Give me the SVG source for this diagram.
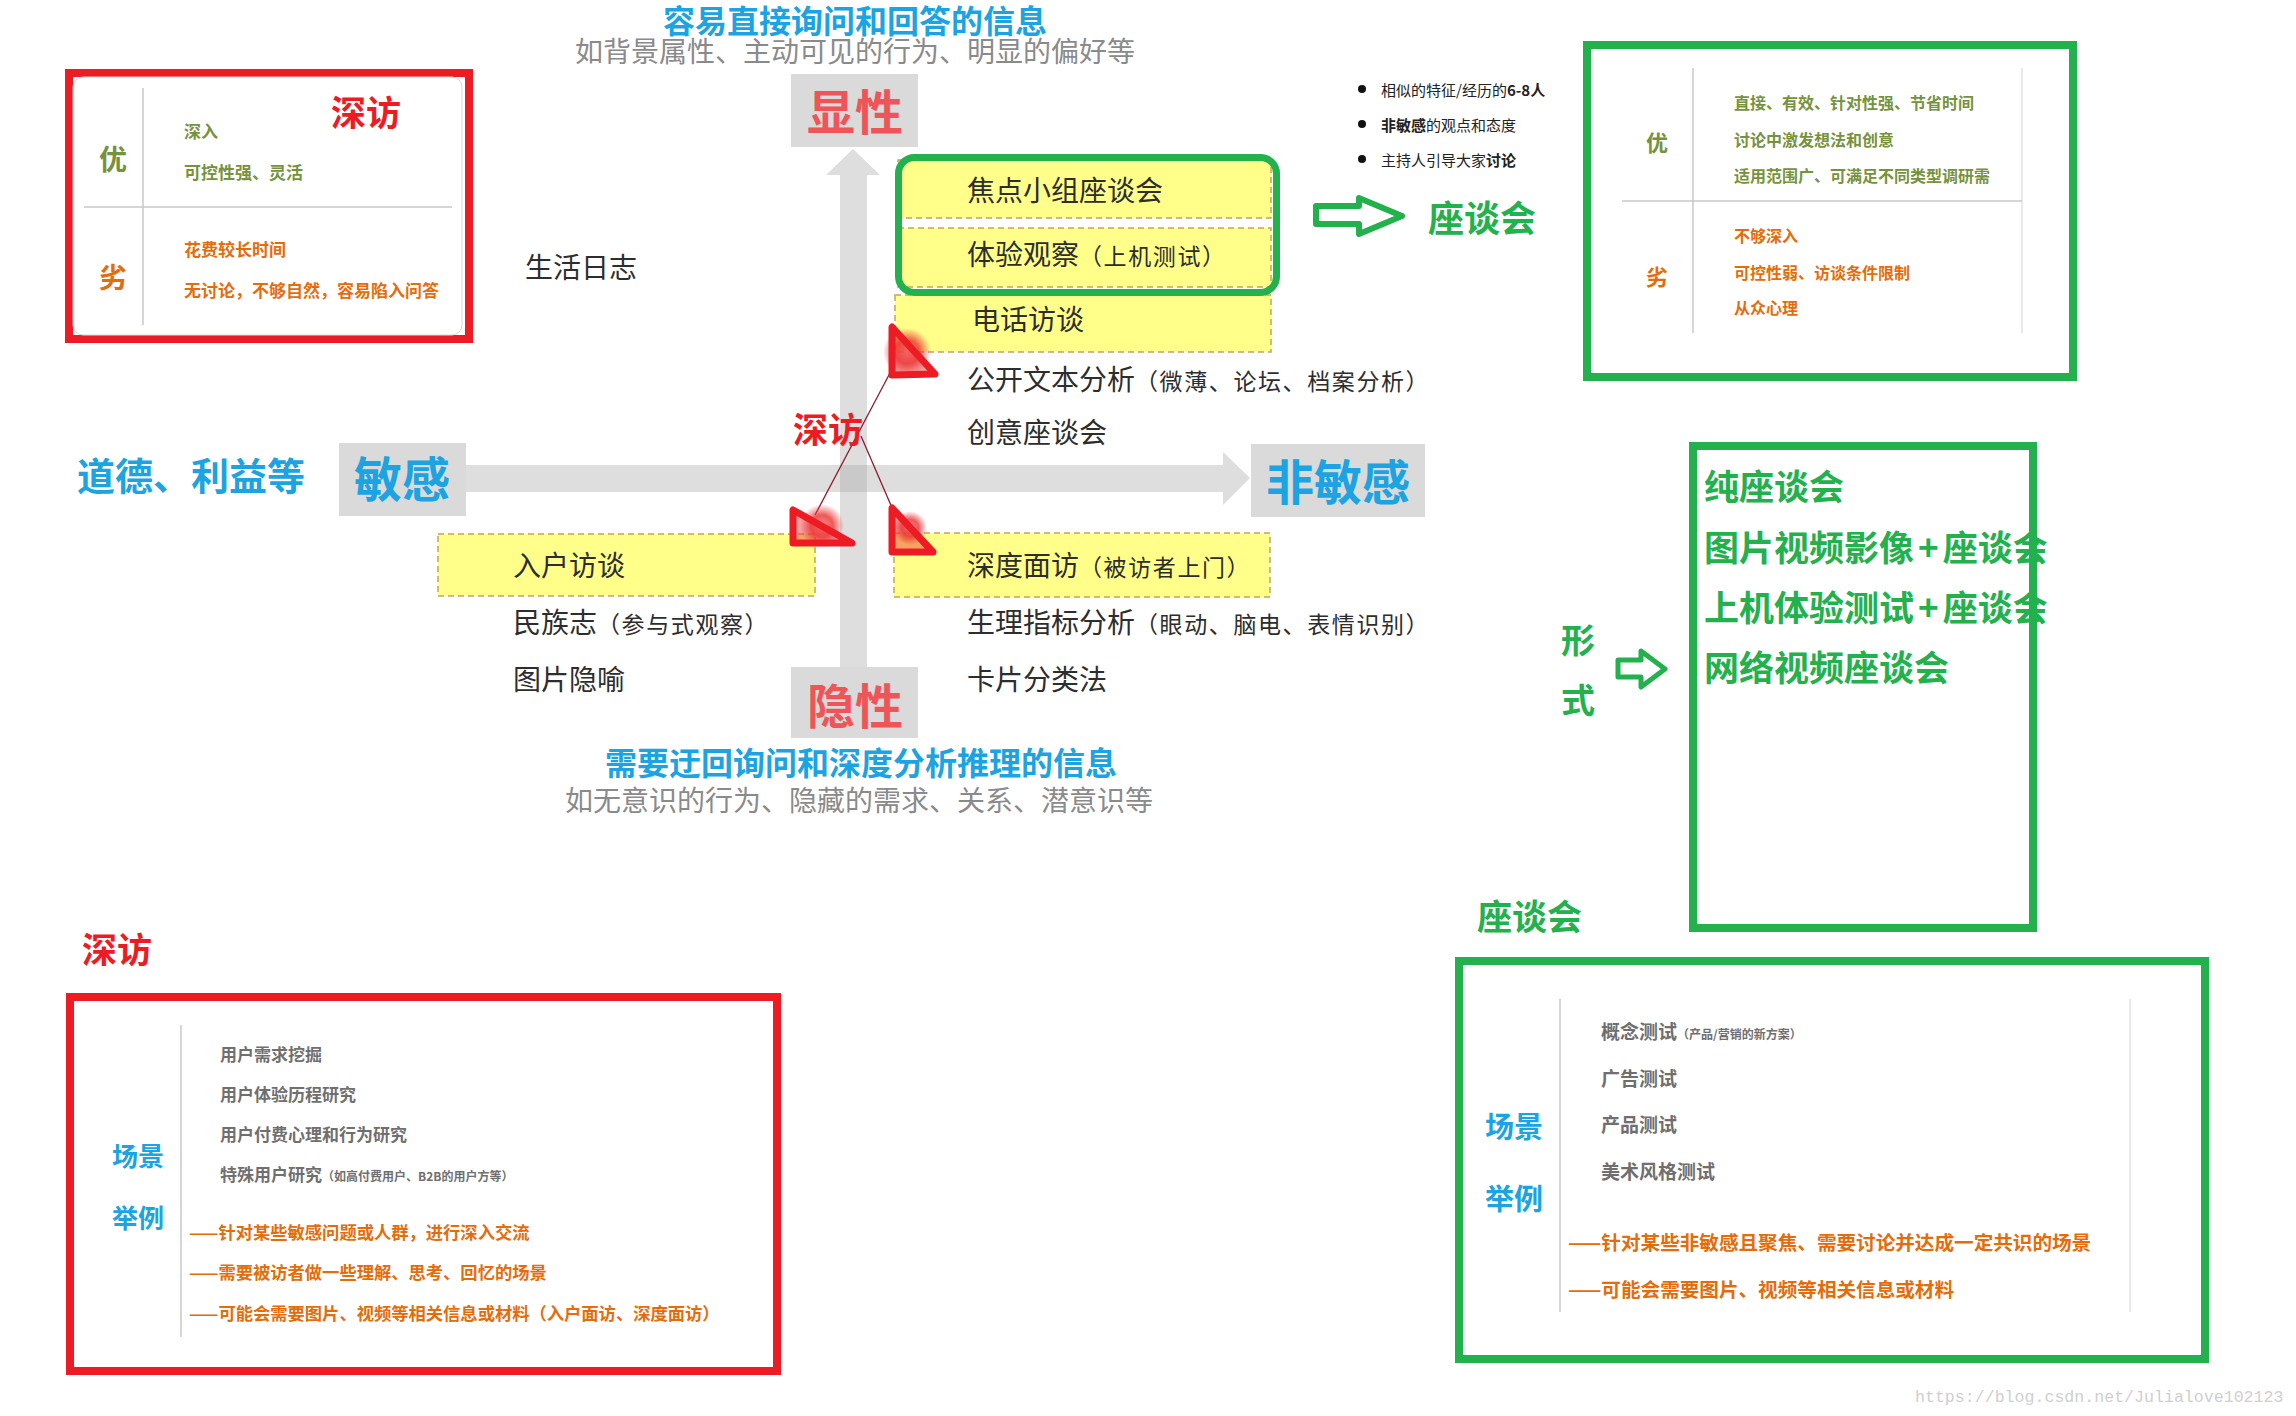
<svg xmlns="http://www.w3.org/2000/svg" width="2296" height="1416" viewBox="0 0 2296 1416">
<defs>
<style>
text{font-family:"Noto Sans CJK SC","Noto Sans",sans-serif;}
.dark{fill:#2d2d2d;font-size:28px;}
.sm{font-size:23px;letter-spacing:1.6px;}
.blue{fill:#1ba3e2;font-weight:700;}
.gray{fill:#8a8a8a;font-size:28px;}
.pink{fill:#ef5558;font-weight:700;font-size:48px;}
.red{fill:#ed1c24;font-weight:700;font-size:35px;}
.green{fill:#22b14c;font-weight:700;}
.olive{fill:#76923c;font-weight:700;}
.orange{fill:#e46c0a;font-weight:700;}
.item{fill:#6f6f6f;font-weight:700;}
.ybox{fill:#ffff8a;stroke:#c8a35a;stroke-width:1.5;stroke-dasharray:6 4;}
.gbox{fill:#dadada;}
.redframe{fill:#fff;stroke:#ed1c24;stroke-width:8;}
.greenframe{fill:#fff;stroke:#22b14c;stroke-width:8;}
.rule{stroke:#c8c8c8;stroke-width:1.5;}
.faint{stroke:#e2e2e2;stroke-width:1.5;}
.axis{fill:#dedede;}
.tri{fill:#ee3030;fill-opacity:0.45;stroke:#ed1c24;stroke-width:7;stroke-linejoin:round;}
.thin{stroke:#8e1b2b;stroke-width:1.3;fill:none;}
.harrow{fill:#fff;stroke:#22b14c;stroke-linejoin:round;}
</style>
<radialGradient id="blob">
<stop offset="0" stop-color="#ff8080" stop-opacity="0.9"/>
<stop offset="0.5" stop-color="#e83030" stop-opacity="0.8"/>
<stop offset="1" stop-color="#e83030" stop-opacity="0"/>
</radialGradient>
</defs>
<rect width="2296" height="1416" fill="#fff"/>

<g id="titles">
<text x="663" y="33" class="blue" font-size="32">容易直接询问和回答的信息</text>
<text x="575" y="62" class="gray">如背景属性、主动可见的行为、明显的偏好等</text>
<text x="605" y="775" class="blue" font-size="32">需要迂回询问和深度分析推理的信息</text>
<text x="565" y="811" class="gray">如无意识的行为、隐藏的需求、关系、潜意识等</text>
</g>

<g id="connectors">
<rect class="axis" x="840" y="174" width="27" height="493"/>
<polygon class="axis" points="853,149 880,175 826,175"/>
<rect class="axis" x="466" y="465" width="758" height="27"/>
<polygon class="axis" points="1223,452 1250,478 1223,505"/>
<rect x="840" y="465" width="27" height="27" fill="#c9c9c9"/>
<line class="thin" x1="890" y1="373" x2="815" y2="515"/>
<line class="thin" x1="861" y1="436" x2="893" y2="510"/>
<path class="harrow" stroke-width="6" d="M1316,206 H1359 V198 L1402,216 L1359,234 V224 H1316 Z"/>
<path class="harrow" stroke-width="5" d="M1618,660 H1641 V651 L1665,669 L1641,687 V677 H1618 Z"/>
</g>

<g id="axis-labels">
<g id="node-xianxing"><rect class="gbox" x="791" y="74" width="127" height="73"/><text x="855" y="130" class="pink" text-anchor="middle">显性</text></g>
<g id="node-yinxing"><rect class="gbox" x="791" y="667" width="127" height="71"/><text x="855" y="724" class="pink" text-anchor="middle">隐性</text></g>
<g id="node-mingan"><rect class="gbox" x="339" y="443" width="127" height="73"/><text x="402" y="497" class="blue" font-size="48" text-anchor="middle">敏感</text></g>
<g id="node-feimingan"><rect class="gbox" x="1251" y="444" width="174" height="73"/><text x="1338" y="500" class="blue" font-size="48" text-anchor="middle">非敏感</text></g>
<text x="77" y="490" class="blue" font-size="38">道德、利益等</text>
</g>

<g id="methods">
<g id="node-jiaodian"><rect class="ybox" x="898" y="160" width="373" height="58"/><text x="967" y="201" class="dark">焦点小组座谈会</text></g>
<g id="node-tiyan"><rect class="ybox" x="898" y="228" width="373" height="59"/><text x="967" y="265" class="dark">体验观察<tspan class="sm">（上机测试）</tspan></text></g>
<g id="node-dianhua"><rect class="ybox" x="895" y="295" width="376" height="57"/><text x="972" y="330" class="dark">电话访谈</text></g>
<g id="node-green-group"><rect x="898.5" y="157.5" width="378" height="135" rx="16" fill="none" stroke="#22b14c" stroke-width="7"/></g>
<g id="node-ruhu"><rect class="ybox" x="438" y="534" width="377" height="62"/><text x="513" y="576" class="dark">入户访谈</text></g>
<g id="node-shendu"><rect class="ybox" x="894" y="533" width="376" height="64"/><text x="967" y="576" class="dark">深度面访<tspan class="sm">（被访者上门）</tspan></text></g>
<text x="525" y="278" class="dark">生活日志</text>
<text x="967" y="390" class="dark">公开文本分析<tspan class="sm">（微薄、论坛、档案分析）</tspan></text>
<text x="967" y="443" class="dark">创意座谈会</text>
<text x="513" y="633" class="dark">民族志<tspan class="sm">（参与式观察）</tspan></text>
<text x="967" y="633" class="dark">生理指标分析<tspan class="sm">（眼动、脑电、表情识别）</tspan></text>
<text x="513" y="690" class="dark">图片隐喻</text>
<text x="967" y="690" class="dark">卡片分类法</text>
</g>

<g id="node-shenfang-marks">
<circle cx="907" cy="352" r="24" fill="url(#blob)"/>
<circle cx="822" cy="526" r="22" fill="url(#blob)"/>
<circle cx="910" cy="528" r="17" fill="url(#blob)"/>
<polygon class="tri" points="892,327 892,375 935,374"/>
<polygon class="tri" points="793,510 793,543 852,543"/>
<polygon class="tri" points="892,508 892,552 933,552"/>
<text x="793" y="443" class="red">深访</text>
</g>

<g id="node-shenfang-proscons">
<rect class="redframe" x="69" y="73" width="400" height="266"/>
<rect x="73" y="77" width="389" height="258" rx="10" fill="#fff" stroke="#d8d8d8" stroke-width="1"/>
<line class="rule" x1="143" y1="88" x2="143" y2="325"/>
<line class="rule" x1="84" y1="207" x2="452" y2="207"/>
<text x="113" y="170" class="olive" font-size="28" text-anchor="middle">优</text>
<text x="113" y="288" class="orange" font-size="28" text-anchor="middle">劣</text>
<text x="184" y="138" class="olive" font-size="17">深入</text>
<text x="184" y="179" class="olive" font-size="17">可控性强、灵活</text>
<text x="184" y="256" class="orange" font-size="17">花费较长时间</text>
<text x="184" y="297" class="orange" font-size="17">无讨论，不够自然，容易陷入问答</text>
<text x="331" y="126" class="red">深访</text>
</g>

<g id="node-zuotan-bullets">
<circle cx="1362" cy="89" r="4" fill="#111"/>
<circle cx="1362" cy="124" r="4" fill="#111"/>
<circle cx="1362" cy="159" r="4" fill="#111"/>
<text x="1381" y="96" font-size="15" fill="#222">相似的特征/经历的<tspan font-weight="700">6-8人</tspan></text>
<text x="1381" y="131" font-size="15" fill="#222"><tspan font-weight="700">非敏感</tspan>的观点和态度</text>
<text x="1381" y="166" font-size="15" fill="#222">主持人引导大家<tspan font-weight="700">讨论</tspan></text>
</g>

<g id="node-zuotan-label">
<text x="1428" y="232" class="green" font-size="36">座谈会</text>
</g>

<g id="node-zuotan-proscons">
<rect class="greenframe" x="1587" y="45" width="486" height="332"/>
<line class="rule" x1="1693" y1="68" x2="1693" y2="333"/>
<line class="faint" x1="2022" y1="68" x2="2022" y2="333"/>
<line class="rule" x1="1622" y1="201" x2="2022" y2="201"/>
<text x="1657" y="151" class="olive" font-size="22" text-anchor="middle">优</text>
<text x="1657" y="285" class="orange" font-size="22" text-anchor="middle">劣</text>
<text x="1734" y="109" class="olive" font-size="16">直接、有效、针对性强、节省时间</text>
<text x="1734" y="146" class="olive" font-size="16">讨论中激发想法和创意</text>
<text x="1734" y="182" class="olive" font-size="16">适用范围广、可满足不同类型调研需</text>
<text x="1734" y="242" class="orange" font-size="16">不够深入</text>
<text x="1734" y="279" class="orange" font-size="16">可控性弱、访谈条件限制</text>
<text x="1734" y="314" class="orange" font-size="16">从众心理</text>
</g>

<g id="node-xingshi">
<text x="1578" y="653" class="green" font-size="34" text-anchor="middle">形</text>
<text x="1578" y="713" class="green" font-size="34" text-anchor="middle">式</text>
</g>

<g id="node-zuotan-forms">
<rect class="greenframe" x="1693" y="446" width="340" height="482"/>
<text x="1704" y="500" class="green" font-size="35">纯座谈会</text>
<text x="1704" y="561" class="green" font-size="35">图片视频影像<tspan dx="4">+</tspan><tspan dx="4">座谈会</tspan></text>
<text x="1704" y="621" class="green" font-size="35">上机体验测试<tspan dx="4">+</tspan><tspan dx="4">座谈会</tspan></text>
<text x="1704" y="681" class="green" font-size="35">网络视频座谈会</text>
</g>

<g id="node-shenfang-scenes">
<text x="82" y="963" class="red">深访</text>
<rect class="redframe" x="70" y="997" width="707" height="374"/>
<line class="rule" x1="181" y1="1025" x2="181" y2="1337"/>
<text x="112" y="1166" class="blue" font-size="26">场景</text>
<text x="112" y="1228" class="blue" font-size="26">举例</text>
<text x="220" y="1061" class="item" font-size="17">用户需求挖掘</text>
<text x="220" y="1101" class="item" font-size="17">用户体验历程研究</text>
<text x="220" y="1141" class="item" font-size="17">用户付费心理和行为研究</text>
<text x="220" y="1181" class="item" font-size="17">特殊用户研究<tspan font-size="12">（如高付费用户、B2B的用户方等）</tspan></text>
<text x="189" y="1239" class="orange" font-size="17.3">——针对某些敏感问题或人群，进行深入交流</text>
<text x="189" y="1279" class="orange" font-size="17.3">——需要被访者做一些理解、思考、回忆的场景</text>
<text x="189" y="1320" class="orange" font-size="17.3">——可能会需要图片、视频等相关信息或材料（入户面访、深度面访）</text>
</g>

<g id="node-zuotan-scenes">
<text x="1477" y="930" class="green" font-size="35">座谈会</text>
<rect class="greenframe" x="1459" y="961" width="746" height="398"/>
<line class="rule" x1="1560" y1="999" x2="1560" y2="1312"/>
<line class="faint" x1="2130" y1="999" x2="2130" y2="1312"/>
<text x="1485" y="1138" class="blue" font-size="29">场景</text>
<text x="1485" y="1210" class="blue" font-size="29">举例</text>
<text x="1601" y="1039" class="item" font-size="19">概念测试<tspan font-size="12">（产品/营销的新方案）</tspan></text>
<text x="1601" y="1086" class="item" font-size="19">广告测试</text>
<text x="1601" y="1132" class="item" font-size="19">产品测试</text>
<text x="1601" y="1179" class="item" font-size="19">美术风格测试</text>
<text x="1568" y="1250" class="orange" font-size="19.6">——针对某些非敏感且聚焦、需要讨论并达成一定共识的场景</text>
<text x="1568" y="1297" class="orange" font-size="19.6">——可能会需要图片、视频等相关信息或材料</text>
</g>

<text x="1915" y="1402" font-size="16.6" fill="#cfcfcf" style="font-family:'Liberation Mono',monospace">https://blog.csdn.net/Julialove102123</text>
</svg>
